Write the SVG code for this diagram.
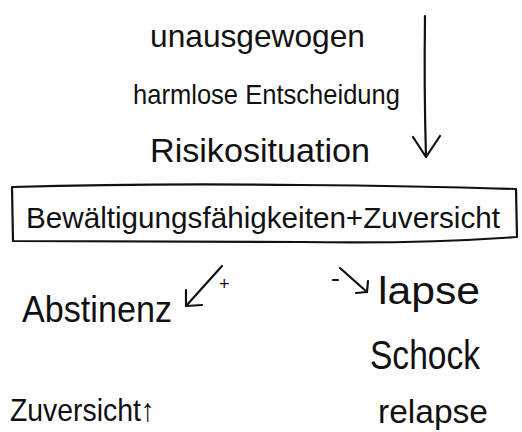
<svg xmlns="http://www.w3.org/2000/svg" width="522" height="432" viewBox="0 0 522 432">
<style>
text{font-family:"Liberation Sans","DejaVu Sans",sans-serif;fill:#111;}
.l{stroke:#111;stroke-width:2.2;fill:none;stroke-linecap:round;stroke-linejoin:round;}
</style>
<rect width="522" height="432" fill="#fff"/>
<g id="unausgewogen"><text x="150" y="47" font-size="32" textLength="215" lengthAdjust="spacingAndGlyphs">unausgewogen</text></g>
<g id="harmlose"><text x="133" y="104" font-size="28" textLength="267" lengthAdjust="spacingAndGlyphs">harmlose Entscheidung</text></g>
<g id="risikosituation"><text x="150" y="162" font-size="34" textLength="220" lengthAdjust="spacingAndGlyphs">Risikosituation</text></g>
<g id="box">
<path class="l" d="M12,187 Q150,183 300,185 Q420,186 516,189 L517,237 Q420,244 300,242 Q150,242 13,241 Z"/>
<text x="26" y="228" font-size="30" textLength="474" lengthAdjust="spacingAndGlyphs">Bewältigungsfähigkeiten+Zuversicht</text>
</g>
<g id="abstinenz"><text x="22" y="322" font-size="36" textLength="150" lengthAdjust="spacingAndGlyphs">Abstinenz</text></g>
<g id="lapse"><text x="378" y="304" font-size="38" textLength="102" lengthAdjust="spacingAndGlyphs">lapse</text></g>
<g id="schock"><text x="370" y="369" font-size="40" textLength="110" lengthAdjust="spacingAndGlyphs">Schock</text></g>
<g id="relapse"><text x="378" y="423" font-size="34" textLength="110" lengthAdjust="spacingAndGlyphs">relapse</text></g>
<g id="zuversicht"><text x="10" y="421" font-size="32" textLength="145" lengthAdjust="spacingAndGlyphs">Zuversicht↑</text></g>
<g id="connectors">
<path class="l" d="M425,16 Q424,90 426,157"/>
<path class="l" d="M413,137 L426,157 L440,136"/>
<path class="l" d="M222,266 L186,306"/>
<path class="l" d="M186,290 L186,306 L202,305"/>
<text x="219" y="290" font-size="18">+</text>
<path class="l" d="M333,280 L338,280"/>
<path class="l" d="M340,268 L367,292"/>
<path class="l" d="M356,293 L367,292 L368,281"/>
</g>
</svg>
